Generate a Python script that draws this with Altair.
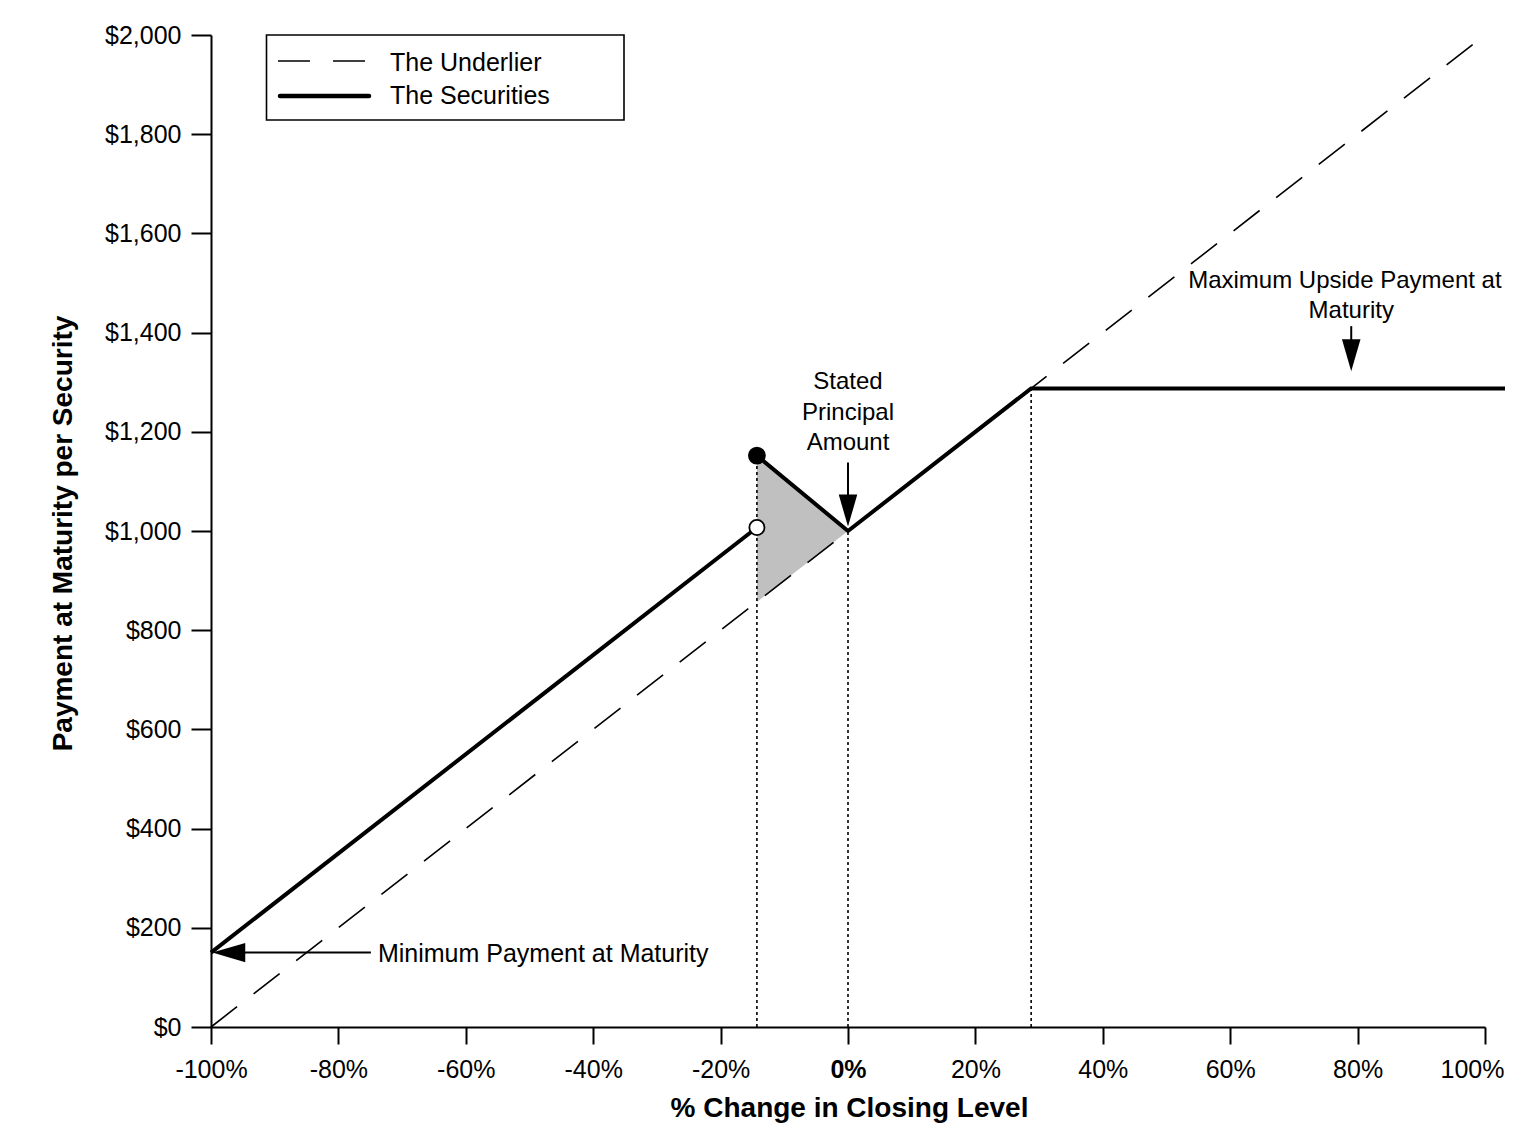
import altair as alt
import pandas as pd

FONT = "Liberation Sans"

# ---- data ----
x_ticks = list(range(-100, 101, 20))
y_ticks = list(range(0, 2001, 200))

underlier_x = [-100, 100]
underlier_y = [0, 2000]

sec_low_x = [-100, -14.3]
sec_low_y = [150, 1007]
sec_high_x = [-14.3, 0, 28.75, 104.4]
sec_high_y = [1152, 1000, 1287.5, 1287.5]

shade_x = [-14.3, 0]
shade_top = [1152, 1000]
shade_bottom = [857, 1000]

guide_x = [-14.3, 0, 28.75]
guide_top = [1152, 1000, 1287.5]

filled_x, filled_y = [-14.3], [1152]
open_x, open_y = [-14.3], [1007]

ann_text = ["Stated", "Principal", "Amount", "Maturity"]
ann_x = [0, 0, 0, 79]
ann_y = [1300, 1238, 1178, 1444]

max_text = ["Maximum Upside Payment at"]
max_x = [53.4]
max_y = [1505]

min_text = ["Minimum Payment at Maturity"]
min_x = [-73.8]
min_y = [147]

vshaft_x = [0, 79]
vshaft_y = [1138, 1413]
vshaft_y2 = [1072, 1378]
vhead_x = [0, 79]
vhead_y = [1009, 1322]

hshaft_x = [-94.8]
hshaft_x2 = [-74.9]
hshaft_y = [150]
hhead_x = [-99.8]
hhead_y = [150]

legend_labels = ["The Underlier", "The Securities"]

# ---- scales / axes ----
xs = alt.Scale(domain=[-100, 100], nice=False, zero=False)
ys = alt.Scale(domain=[0, 2000], nice=False, zero=False)

xaxis = alt.Axis(
    values=x_ticks, labelExpr="datum.value + '%'",
    labelFontWeight={"expr": "datum.value === 0 ? 'bold' : 'normal'"},
    labelAlign={"expr": "datum.value === 100 ? 'right' : 'center'"},
    labelOffset={"expr": "datum.value === 100 ? 19 : 0"},
    labelFont=FONT, labelFontSize=25, labelColor="black", labelPadding=13,
    labelFlush=False, labelOverlap=False,
    tickSize=17, tickWidth=2, tickColor="black",
    domainColor="black", domainWidth=2, grid=False,
    title="% Change in Closing Level", titleFont=FONT, titleFontSize=28,
    titleFontWeight="bold", titleColor="black",
    titleX=638, titleY=81, titleAlign="center", titleBaseline="middle",
)
yaxis = alt.Axis(
    values=y_ticks, labelExpr="'$' + format(datum.value, ',')",
    labelFont=FONT, labelFontSize=25, labelColor="black", labelPadding=10,
    labelFlush=False, labelOverlap=False,
    tickSize=20, tickWidth=2, tickColor="black",
    domainColor="black", domainWidth=2, grid=False,
    title="Payment at Maturity per Security", titleFont=FONT, titleFontSize=28,
    titleFontWeight="bold", titleColor="black",
    titleX=-148, titleY=498, titleAngle=-90, titleAlign="center", titleBaseline="middle",
)

X = alt.X("x:Q", scale=xs, axis=xaxis)
Y = alt.Y("y:Q", scale=ys, axis=yaxis)

shade = alt.Chart(pd.DataFrame({"x": shade_x, "y": shade_top, "y2": shade_bottom})).mark_area(
    color="#c0c0c0", opacity=1, interpolate="linear"
).encode(x=X, y=Y, y2="y2:Q")

underlier = alt.Chart(pd.DataFrame({"x": underlier_x, "y": underlier_y})).mark_line(
    color="black", strokeWidth=1.6, strokeDash=[33, 21]
).encode(x=X, y=Y)

guides = alt.Chart(pd.DataFrame({"x": guide_x, "y": [0] * len(guide_x), "y2": guide_top})).mark_rule(
    color="black", strokeWidth=1.6, strokeDash=[3, 3]
).encode(x=X, y=Y, y2="y2:Q")

sec_low = alt.Chart(pd.DataFrame({"x": sec_low_x, "y": sec_low_y})).mark_line(
    color="black", strokeWidth=4
).encode(x=X, y=Y)
sec_high = alt.Chart(pd.DataFrame({"x": sec_high_x, "y": sec_high_y})).mark_line(
    color="black", strokeWidth=4, strokeJoin="miter"
).encode(x=X, y=Y)

filled_pt = alt.Chart(pd.DataFrame({"x": filled_x, "y": filled_y})).mark_point(
    shape="circle", filled=True, fill="black", stroke="black", size=250, opacity=1
).encode(x=X, y=Y)
open_pt = alt.Chart(pd.DataFrame({"x": open_x, "y": open_y})).mark_point(
    shape="circle", filled=True, fill="white", stroke="black", strokeWidth=1.8, size=230, opacity=1
).encode(x=X, y=Y)

vshafts = alt.Chart(pd.DataFrame({"x": vshaft_x, "y": vshaft_y, "y2": vshaft_y2})).mark_rule(
    color="black", strokeWidth=2
).encode(x=X, y=Y, y2="y2:Q")
vheads = alt.Chart(pd.DataFrame({"x": vhead_x, "y": vhead_y})).mark_point(
    shape="M0,0L-0.29,-1L0.29,-1Z", filled=True, fill="black", size=4096, opacity=1, strokeWidth=0
).encode(x=X, y=Y)

hshaft = alt.Chart(pd.DataFrame({"x": hshaft_x, "x2": hshaft_x2, "y": hshaft_y})).mark_rule(
    color="black", strokeWidth=2
).encode(x=X, x2="x2:Q", y=Y)
hhead = alt.Chart(pd.DataFrame({"x": hhead_x, "y": hhead_y})).mark_point(
    shape="M0,0L1,-0.29L1,0.29Z", filled=True, fill="black", size=4356, opacity=1, strokeWidth=0
).encode(x=X, y=Y)

ann = alt.Chart(pd.DataFrame({"x": ann_x, "y": ann_y, "t": ann_text})).mark_text(
    font=FONT, fontSize=24, color="black", align="center", baseline="middle"
).encode(x=X, y=Y, text="t:N")
max_ann = alt.Chart(pd.DataFrame({"x": max_x, "y": max_y, "t": max_text})).mark_text(
    font=FONT, fontSize=24, color="black", align="left", baseline="middle"
).encode(x=X, y=Y, text="t:N")
min_ann = alt.Chart(pd.DataFrame({"x": min_x, "y": min_y, "t": min_text})).mark_text(
    font=FONT, fontSize=25, color="black", align="left", baseline="middle"
).encode(x=X, y=Y, text="t:N")

# ---- legend box (drawn in pixel space of the plot) ----
one = pd.DataFrame({"k": [0]})
leg_box = alt.Chart(one).mark_rect(fill="white", stroke="black", strokeWidth=1.6).encode(
    x=alt.value(55.5), x2=alt.value(413), y=alt.value(0), y2=alt.value(85)
)
leg_dash = alt.Chart(one).mark_rule(color="black", strokeWidth=1.6, strokeDash=[32, 23]).encode(
    x=alt.value(67), x2=alt.value(157), y=alt.value(26)
)
leg_solid = alt.Chart(one).mark_rule(color="black", strokeWidth=4.5, strokeCap="round").encode(
    x=alt.value(69), x2=alt.value(158), y=alt.value(61)
)
leg_text = alt.Chart(pd.DataFrame({"t": legend_labels, "py": [28, 61]})).mark_text(
    font=FONT, fontSize=25, color="black", align="left", baseline="middle"
).encode(x=alt.value(179), y=alt.Y("py:Q", scale=None), text="t:N")

chart = alt.layer(
    shade, underlier, guides, sec_low, sec_high, filled_pt, open_pt,
    vshafts, vheads, hshaft, hhead, ann, max_ann, min_ann,
    leg_box, leg_dash, leg_solid, leg_text,
).properties(
    width=1274, height=992,
    background="white",
    autosize=alt.AutoSizeParams(type="none"),
    padding={"left": 203, "top": 27, "right": 20, "bottom": 100},
).configure_view(strokeWidth=0)

chart.save("out.html", embed_options={"renderer": "svg", "actions": False})
